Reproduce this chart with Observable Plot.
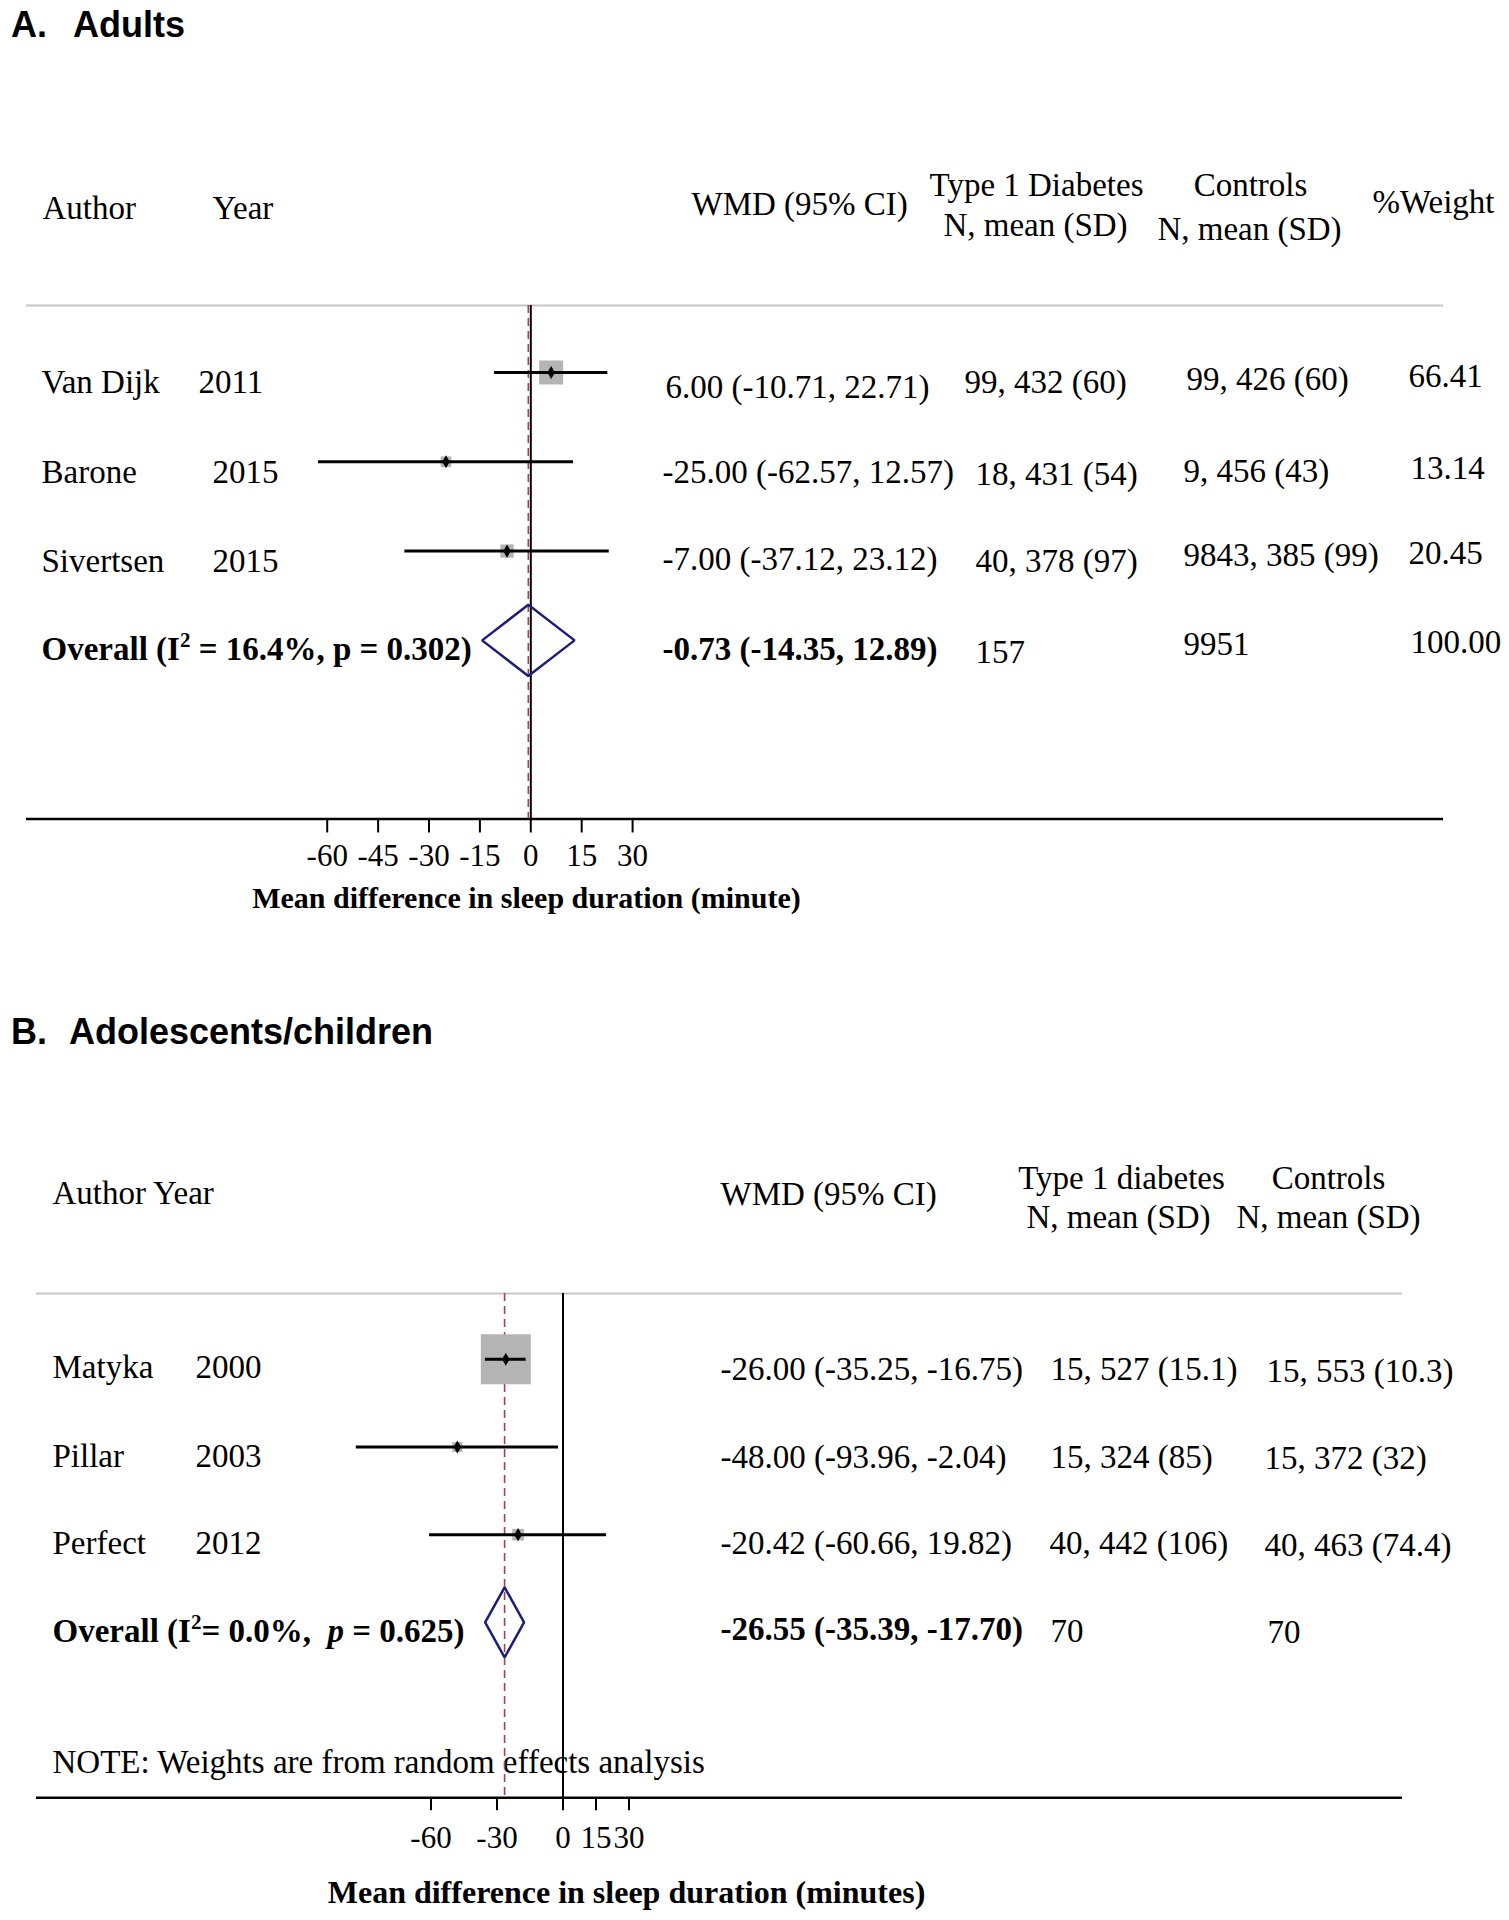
<!DOCTYPE html>
<html><head><meta charset="utf-8">
<script src="https://cdn.jsdelivr.net/npm/d3@7"></script>
<script src="https://cdn.jsdelivr.net/npm/@observablehq/plot@0.6"></script>
<style>
body{margin:0;background:#fff;}
#page{position:relative;width:1509px;height:1920px;background:#fff;overflow:hidden;}
.ttl{position:absolute;font-family:"Liberation Sans",Arial,sans-serif;font-weight:bold;font-size:36px;line-height:36px;white-space:pre;color:#000;}
.panel{position:absolute;left:0;}
</style></head><body><div id="page"></div>
<script>
// ---------------- Panel A: Adults ----------------
const adultAuthors = ["Van Dijk", "Barone", "Sivertsen"];
const adultYears = ["2011", "2015", "2015"];
const adultWMD = [6.00, -25.00, -7.00];
const adultLower = [-10.71, -62.57, -37.12];
const adultUpper = [22.71, 12.57, 23.12];
const adultT1D = ["99, 432 (60)", "18, 431 (54)", "40, 378 (97)"];
const adultControls = ["99, 426 (60)", "9, 456 (43)", "9843, 385 (99)"];
const adultWeight = [66.41, 13.14, 20.45];
const adultOverall = [-0.73, -14.35, 12.89];           // WMD, lower, upper
const adultOverallN = ["157", "9951", "100.00"];       // T1D N, controls N, %weight
const adultOverallLabel = ["Overall (I", "2", " = 16.4%, p = 0.302)"];
const adultTicks = [-60, -45, -30, -15, 0, 15, 30];

// ---------------- Panel B: Adolescents/children ----------------
const childAuthors = ["Matyka", "Pillar", "Perfect"];
const childYears = ["2000", "2003", "2012"];
const childWMD = [-26.00, -48.00, -20.42];
const childLower = [-35.25, -93.96, -60.66];
const childUpper = [-16.75, -2.04, 19.82];
const childT1D = ["15, 527 (15.1)", "15, 324 (85)", "40, 442 (106)"];
const childControls = ["15, 553 (10.3)", "15, 372 (32)", "40, 463 (74.4)"];
const childWeight = [91.4, 3.7, 4.9];                  // (not printed)
const childOverall = [-26.55, -35.39, -17.70];
const childOverallN = ["70", "70"];
const childOverallLabel = ["Overall (I", "2", "= 0.0%,  ", "p", " = 0.625)"];
const childTicks = [-60, -30, 0, 15, 30];

// ---------------- layout (pixels) ----------------
const SERIF = "'Liberation Serif','Times New Roman',serif";
const layoutA = {
  top: 60, height: 900, frameLeft: 26, frameRight: 1443, zeroPx: 530.3, pxPerMin: 3.393,
  yTopPx: 245, rowPx: 89.3, boxMax: 24,
  headers: [
    {t: "Author", x: 42, b: 158, a: "start"},
    {t: "Year", x: 212, b: 158, a: "start"},
    {t: "WMD (95% CI)", x: 691, b: 154, a: "start"},
    {t: "Type 1 Diabetes", x: 1036, b: 135, a: "middle"},
    {t: "N, mean (SD)", x: 1035, b: 175.5, a: "middle"},
    {t: "Controls", x: 1250, b: 135, a: "middle"},
    {t: "N, mean (SD)", x: 1249, b: 179, a: "middle"},
    {t: "%Weight", x: 1372, b: 152, a: "start"}
  ],
  cols: {
    author: {x: [41, 41, 41, 41], dy: [21, 21, 21, 20]},
    year: {x: [198, 212, 212], dy: [21, 21, 21]},
    wmd: {x: [665, 662, 662, 662], dy: [26, 21, 19, 20]},
    t1d: {x: [964, 975, 975, 975], dy: [21, 23, 21, 23]},
    ctrl: {x: [1186, 1183, 1183, 1183], dy: [18, 20, 15, 15]},
    weight: {x: [1408, 1410, 1408, 1410], dy: [15, 17, 13, 13]}
  },
  tickSize: 14, tickPadding: 11.5, tickFont: 31,
  axisTitle: {t: "Mean difference in sleep duration (minute)", cx: 526, b: 847, size: 30},
  note: null
};
const layoutB = {
  top: 1060, height: 860, frameLeft: 36, frameRight: 1402, zeroPx: 562.5, pxPerMin: 2.2,
  yTopPx: 233, rowPx: 87.7, boxMax: 50,
  headers: [
    {t: "Author Year", x: 52, b: 143, a: "start"},
    {t: "WMD (95% CI)", x: 720, b: 144, a: "start"},
    {t: "Type 1 diabetes", x: 1121, b: 128, a: "middle"},
    {t: "N, mean (SD)", x: 1118, b: 167, a: "middle"},
    {t: "Controls", x: 1328, b: 128, a: "middle"},
    {t: "N, mean (SD)", x: 1328, b: 167, a: "middle"}
  ],
  cols: {
    author: {x: [52, 52, 52, 52], dy: [19, 20, 19, 20]},
    year: {x: [195, 195, 195], dy: [19, 20, 19]},
    wmd: {x: [720, 720, 720, 720], dy: [21, 21, 19, 18]},
    t1d: {x: [1050, 1050, 1049, 1050], dy: [21, 21, 19, 20]},
    ctrl: {x: [1266, 1264, 1264, 1267], dy: [23, 22, 21, 21]}
  },
  tickSize: 13, tickPadding: 15.5, tickFont: 31,
  axisTitle: {t: "Mean difference in sleep duration (minutes)", cx: 626, b: 842, size: 32},
  note: {t: "NOTE: Weights are from random effects analysis", x: 52, b: 712}
};

const fmt = v => v.toFixed(2);
const wmdLabel = (e, l, h) => `${fmt(e)} (${fmt(l)}, ${fmt(h)})`;

function buildPanel(L, d) {
  const rows = d.authors.map((a, i) => ({
    row: i + 1, author: a, year: d.years[i], est: d.wmd[i], lo: d.lower[i], hi: d.upper[i],
    wmdText: wmdLabel(d.wmd[i], d.lower[i], d.upper[i]), t1d: d.t1d[i], ctrl: d.ctrl[i],
    weight: d.weight[i], weightText: d.weight[i].toFixed(2)
  }));
  const oRow = rows.length + 1;
  const [oe, ol, oh] = d.overall;
  const overallRow = {
    row: oRow, author: d.overallLabel.join("").replace("I2", "I²"),
    wmdText: wmdLabel(oe, ol, oh), t1d: d.overallN[0], ctrl: d.overallN[1], weightText: d.overallN[2]
  };
  const yTopRow = 0.25, yAxisRow = 6;
  const axisPx = L.yTopPx + (yAxisRow - yTopRow) * L.rowPx;
  const h = 0.4;
  const diamond = [
    {x: ol, y: oRow}, {x: oe, y: oRow - h}, {x: oh, y: oRow}, {x: oe, y: oRow + h}
  ];
  const marks = [];
  // header labels
  for (const hd of L.headers) {
    marks.push(Plot.text([hd.t], {
      text: t => t, frameAnchor: "top-left", dx: hd.x - L.frameLeft, dy: hd.b - L.yTopPx,
      textAnchor: hd.a, lineAnchor: "bottom", fontSize: 33, fontFamily: SERIF
    }));
  }
  // table cells
  const all = rows.concat([overallRow]);
  const colKeys = {author: "author", year: "year", wmd: "wmdText", t1d: "t1d", ctrl: "ctrl", weight: "weightText"};
  for (const [c, spec] of Object.entries(L.cols)) {
    spec.x.forEach((x, i) => {
      const r = all[i];
      if (!r || r[colKeys[c]] == null) return;
      const bold = r.row === oRow && (c === "author" || c === "wmd");
      marks.push(Plot.text([r], {
        y: "row", text: colKeys[c], frameAnchor: "left", dx: x - L.frameLeft, dy: spec.dy[i],
        textAnchor: "start", lineAnchor: "bottom", fontSize: 33, fontFamily: SERIF,
        fontWeight: bold ? "bold" : "normal"
      }));
    });
  }
  if (L.note) {
    marks.push(Plot.text([L.note.t], {
      text: t => t, frameAnchor: "bottom-left", dx: L.note.x - L.frameLeft, dy: L.note.b - axisPx,
      textAnchor: "start", lineAnchor: "bottom", fontSize: 33, fontFamily: SERIF
    }));
  }
  // lines
  marks.push(Plot.ruleY([yTopRow], {y: v => v, stroke: "#c6c6c6", strokeWidth: 2}));
  marks.push(Plot.ruleY([yAxisRow], {y: v => v, stroke: "#000", strokeWidth: 2.6}));
  marks.push(Plot.ruleX([0], {x: v => v, y1: yTopRow, y2: yAxisRow, stroke: "#000", strokeWidth: 2}));
  marks.push(Plot.ruleX([oe], {x: v => v, y1: yTopRow, y2: yAxisRow, stroke: "#a8414c", strokeWidth: 1.6, strokeDasharray: "8,5"}));
  // study boxes, CIs, points
  marks.push(Plot.dot(rows, {x: "est", y: "row", r: "weight", symbol: "square", fill: "#b4b4b4", stroke: "none"}));
  marks.push(Plot.ruleY(rows, {y: "row", x1: "lo", x2: "hi", stroke: "#000", strokeWidth: 3}));
  marks.push(Plot.dot(rows, {x: "est", y: "row", symbol: "diamond", r: 4, fill: "#000", stroke: "none"}));
  // pooled diamond
  marks.push(Plot.line(diamond, {x: "x", y: "y", curve: "linear-closed", stroke: "#1c1f78", strokeWidth: 2.5, fill: "none", strokeLinejoin: "miter"}));
  // axis
  marks.push(Plot.axisX({
    ticks: d.ticks, anchor: "bottom", tickSize: L.tickSize, tickPadding: L.tickPadding,
    tickFormat: v => String(v), fontSize: L.tickFont, fontFamily: SERIF, strokeWidth: 2, label: null
  }));
  marks.push(Plot.text([L.axisTitle.t], {
    text: t => t, frameAnchor: "bottom-left", dx: L.axisTitle.cx - L.frameLeft, dy: L.axisTitle.b - axisPx,
    textAnchor: "middle", lineAnchor: "bottom", fontSize: L.axisTitle.size, fontWeight: "bold", fontFamily: SERIF
  }));

  const svg = Plot.plot({
    width: 1509, height: L.height,
    marginLeft: L.frameLeft, marginRight: 1509 - L.frameRight,
    marginTop: L.yTopPx, marginBottom: L.height - axisPx,
    style: {fontFamily: SERIF, fontSize: "33px", background: "transparent", color: "#000", overflow: "visible"},
    x: {domain: [(L.frameLeft - L.zeroPx) / L.pxPerMin, (L.frameRight - L.zeroPx) / L.pxPerMin],
        range: [L.frameLeft, L.frameRight]},
    y: {domain: [yTopRow, yAxisRow], range: [L.yTopPx, axisPx], axis: null},
    r: {type: "sqrt", domain: [0, d3.max(d.weight)], range: [0, L.boxMax / Math.sqrt(Math.PI)]},
    marks
  });
  // rich text for pooled label (superscript 2, italic p)
  const NS = "http://www.w3.org/2000/svg";
  svg.querySelectorAll("text").forEach(t => {
    if (t.textContent.startsWith("Overall")) {
      t.textContent = "";
      t.setAttributeNS("http://www.w3.org/XML/1998/namespace", "xml:space", "preserve");
      t.style.whiteSpace = "pre";
      d.overallLabel.forEach((part, i) => {
        const s = document.createElementNS(NS, "tspan");
        s.textContent = part;
        if (i === 1) { s.setAttribute("dy", "-13"); s.setAttribute("font-size", "21"); }
        if (i === 2) { s.setAttribute("dy", "13"); }
        if (i === 3) { s.setAttribute("font-style", "italic"); }
        t.appendChild(s);
      });
    }
  });
  svg.classList.add("panel");
  svg.style.top = L.top + "px";
  svg.style.position = "absolute";
  return svg;
}

const page = document.getElementById("page");
function addTitle(parts, top) {
  parts.forEach(([txt, left]) => {
    const el = document.createElement("div");
    el.className = "ttl"; el.textContent = txt;
    el.style.top = top + "px"; el.style.left = left + "px";
    page.appendChild(el);
  });
}
addTitle([["A.", 11], ["Adults", 73]], 6.5);
page.appendChild(buildPanel(layoutA, {
  authors: adultAuthors, years: adultYears, wmd: adultWMD, lower: adultLower, upper: adultUpper,
  t1d: adultT1D, ctrl: adultControls, weight: adultWeight, overall: adultOverall,
  overallN: adultOverallN, overallLabel: adultOverallLabel, ticks: adultTicks
}));
addTitle([["B.", 11], ["Adolescents/children", 69]], 1013.5);
page.appendChild(buildPanel(layoutB, {
  authors: childAuthors, years: childYears, wmd: childWMD, lower: childLower, upper: childUpper,
  t1d: childT1D, ctrl: childControls, weight: childWeight, overall: childOverall,
  overallN: childOverallN, overallLabel: childOverallLabel, ticks: childTicks
}));
</script></body></html>
